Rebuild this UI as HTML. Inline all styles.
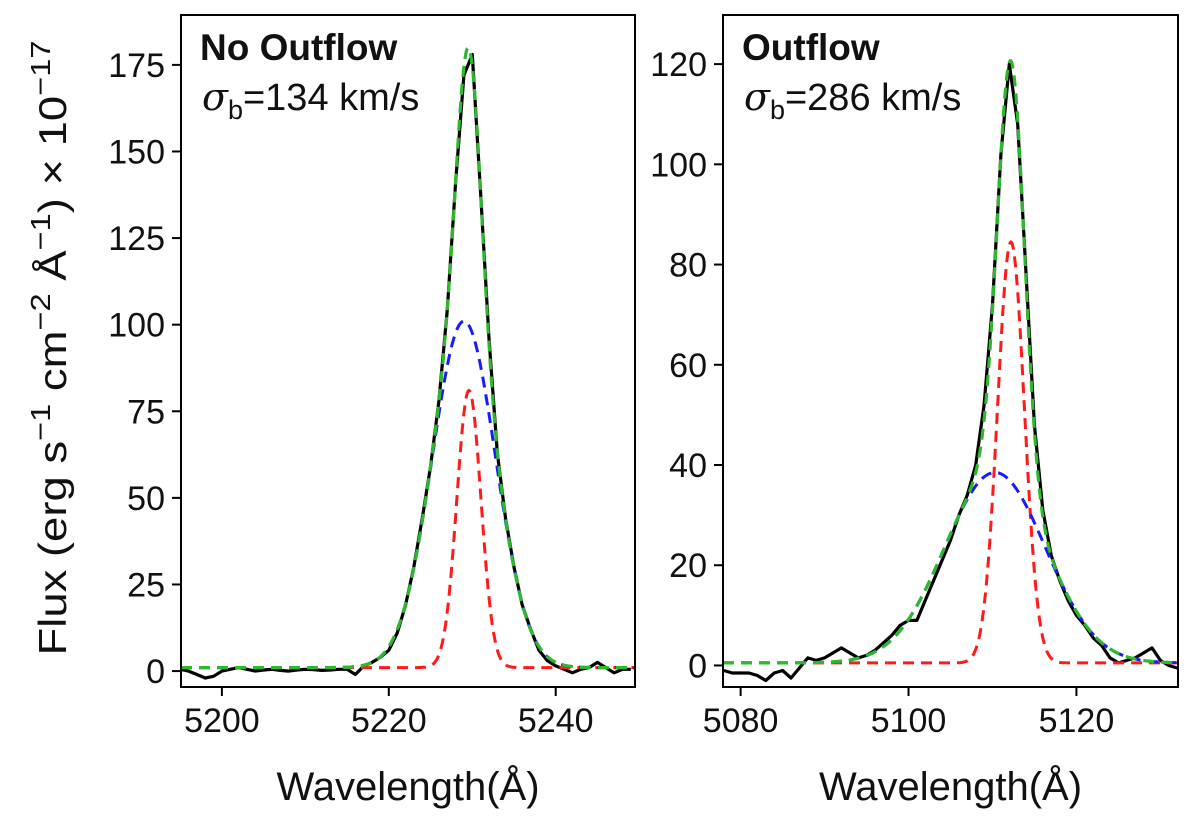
<!DOCTYPE html>
<html><head><meta charset="utf-8"><style>
body{margin:0;background:#fff}
svg text{font-family:"Liberation Sans","DejaVu Sans",sans-serif;fill:#111}
</style></head><body>
<svg id="fig" width="1200" height="811" viewBox="0 0 1200 811" xmlns="http://www.w3.org/2000/svg"></svg>
<script>
// ---------- data: left panel (No Outflow) ----------
const leftWave = [5195,5196,5197,5198,5199,5200,5201,5202,5203,5204,5205,5206,5207,5208,5209,5210,5211,5212,5213,5214,5215,5216,5217,5218,5219,5220,5221,5222,5223,5224,5225,5226,5227,5228,5229,5230,5231,5232,5233,5234,5235,5236,5237,5238,5239,5240,5241,5242,5243,5244,5245,5246,5247,5248,5249];
const leftFlux = [0.5,0,-1,-2,-1.5,0,0.5,1,0.5,0,0.3,0.5,0.2,0,0.3,0.5,0.4,0.2,0.3,0.5,0.5,-1,1.5,2.5,4,6,11,19,30,44,59,78,104,141,172,178,138,96,63,44,30,19,12,6,3,1.5,0.5,-0.5,0.5,1,2.5,1,-0.5,0.5,0.5];
const leftCont = [1.0];
const leftBroad = [100, 5229.0, 3.8];   // amplitude, centre, sigma
const leftNarrow = [80, 5229.6, 1.45];
const leftYTicks = [0,25,50,75,100,125,150,175];
const leftXTicks = [5200,5220,5240];
// ---------- data: right panel (Outflow) ----------
const rightWave = [5078,5079,5080,5081,5082,5083,5084,5085,5086,5087,5088,5089,5090,5091,5092,5093,5094,5095,5096,5097,5098,5099,5100,5101,5102,5103,5104,5105,5106,5107,5108,5109,5110,5111,5112,5113,5114,5115,5116,5117,5118,5119,5120,5121,5122,5123,5124,5125,5126,5127,5128,5129,5130,5131,5132];
const rightFlux = [-1,-1.5,-1.5,-1.5,-2,-3,-1.5,-1,-2.5,-0.5,1.5,1,1.5,2.5,3.5,2.5,1.5,2,3,4.5,6,8,9,9,13,17,21,25,30,34,40,52,72,102,120,108,78,48,31,22,17,13,10,8,5.5,4,1.5,0.5,1,1.5,2.5,3.5,1,0,-0.5];
const rightCont = [0.5];
const rightBroad = [38, 5110.3, 6.0];
const rightNarrow = [84, 5112.2, 1.6];
const rightYTicks = [0,20,40,60,80,100,120];
const rightXTicks = [5080,5100,5120];

const NS="http://www.w3.org/2000/svg";
const svg=document.getElementById('fig');
function mk(tag,attrs,parent){const e=document.createElementNS(NS,tag);for(const k in attrs)e.setAttribute(k,attrs[k]);(parent||svg).appendChild(e);return e;}

function panel(cfg){
  const g=mk('g',{});
  
  
  const sx=v=>cfg.x0+(v-cfg.xmin)/(cfg.xmax-cfg.xmin)*(cfg.x1-cfg.x0);
  const sy=v=>cfg.y0+(cfg.ymax-v)/(cfg.ymax-cfg.ymin)*(cfg.y1-cfg.y0);
  const clip=mk('clipPath',{id:cfg.name+'-clip'},g);
  mk('rect',{x:cfg.x0,y:cfg.y0,width:cfg.x1-cfg.x0,height:cfg.y1-cfg.y0},clip);
  const plot=mk('g',{'clip-path':'url(#'+cfg.name+'-clip)'},g);
  const gauss=(p,w)=>p[0]*Math.exp(-((w-p[1])**2)/(2*p[2]*p[2]));
  const fine=[];for(let w=cfg.xmin;w<=cfg.xmax;w+=0.1)fine.push(w);
  const path=(xs,ys)=>xs.map((w,i)=>(i?'L':'M')+sx(w).toFixed(1)+' '+sy(ys[i]).toFixed(1)).join(' ');
  const obs=mk('path',{d:path(cfg.wave,cfg.flux),fill:'none',stroke:'#000','stroke-width':3.2,'stroke-linejoin':'round'},plot);
  
  
  const nar=mk('path',{d:path(fine,fine.map(w=>cfg.cont[0]+gauss(cfg.narrow,w))),fill:'none',stroke:'#ff1a1a','stroke-width':3,'stroke-dasharray':'11 7'},plot);
  
  
  const br=mk('path',{d:path(fine,fine.map(w=>cfg.cont[0]+gauss(cfg.broad,w))),fill:'none',stroke:'#1a1aff','stroke-width':3,'stroke-dasharray':'11 7'},plot);
  
  
  const tot=mk('path',{d:path(fine,fine.map(w=>cfg.cont[0]+gauss(cfg.broad,w)+gauss(cfg.narrow,w))),fill:'none',stroke:'#2db82d','stroke-width':3.2,'stroke-dasharray':'11 7'},plot);
  
  
  const fr=mk('rect',{x:cfg.x0,y:cfg.y0,width:cfg.x1-cfg.x0,height:cfg.y1-cfg.y0,fill:'none',stroke:'#000','stroke-width':2},g);
  
  
  cfg.yt.forEach(v=>{
    const y=sy(v);
    mk('line',{x1:cfg.x0-9,x2:cfg.x0,y1:y,y2:y,stroke:'#000','stroke-width':2},g);
    const t=mk('text',{x:cfg.x0-16,y:y+12,'text-anchor':'end','font-size':34},g);
    t.textContent=v;
    
    
  });
  cfg.xt.forEach(v=>{
    const x=sx(v);
    mk('line',{x1:x,x2:x,y1:cfg.y1,y2:cfg.y1+9,stroke:'#000','stroke-width':2},g);
    const t=mk('text',{x:x,y:cfg.y1+45,'text-anchor':'middle','font-size':34},g);
    t.textContent=v;
    
    
  });
  const xl=mk('text',{x:(cfg.x0+cfg.x1)/2,y:800,'text-anchor':'middle','font-size':40},g);
  xl.textContent='Wavelength(Å)';
  
  
  const ti=mk('text',{x:cfg.x0+19,y:60,'font-size':37,'font-weight':'bold'},g);
  ti.textContent=cfg.title;
  
  
  const sg=mk('text',{x:cfg.x0+21,y:110,'font-size':38},g);
  sg.innerHTML='<tspan font-style="italic" font-family="DejaVu Serif, serif">σ</tspan><tspan font-size="27" dy="9">b</tspan><tspan dy="-9">='+cfg.sig+' km/s</tspan>';
  
  
}

panel({name:'no-outflow-panel',x0:181,x1:635,y0:15,y1:687,xmin:5195.1,xmax:5249.5,ymin:-4.6,ymax:189.4,
  wave:leftWave,flux:leftFlux,cont:leftCont,broad:leftBroad,narrow:leftNarrow,yt:leftYTicks,xt:leftXTicks,title:'No Outflow',sig:'134'});
panel({name:'outflow-panel',x0:723,x1:1178,y0:15,y1:687,xmin:5077.9,xmax:5132.1,ymin:-4.3,ymax:129.8,
  wave:rightWave,flux:rightFlux,cont:rightCont,broad:rightBroad,narrow:rightNarrow,yt:rightYTicks,xt:rightXTicks,title:'Outflow',sig:'286'});

const yl=mk('text',{x:0,y:0,'text-anchor':'middle','font-size':39,'font-family':'DejaVu Sans, sans-serif',textLength:615,lengthAdjust:'spacingAndGlyphs',transform:'translate(66,348) rotate(-90)'});
yl.innerHTML='Flux (erg s<tspan font-size="28" dy="-16">−1</tspan><tspan dy="16"> cm</tspan><tspan font-size="28" dy="-16">−2</tspan><tspan dy="16"> Å</tspan><tspan font-size="28" dy="-16">−1</tspan><tspan dy="16">) × 10</tspan><tspan font-size="28" dy="-16">−17</tspan>';


</script>
</body></html>
